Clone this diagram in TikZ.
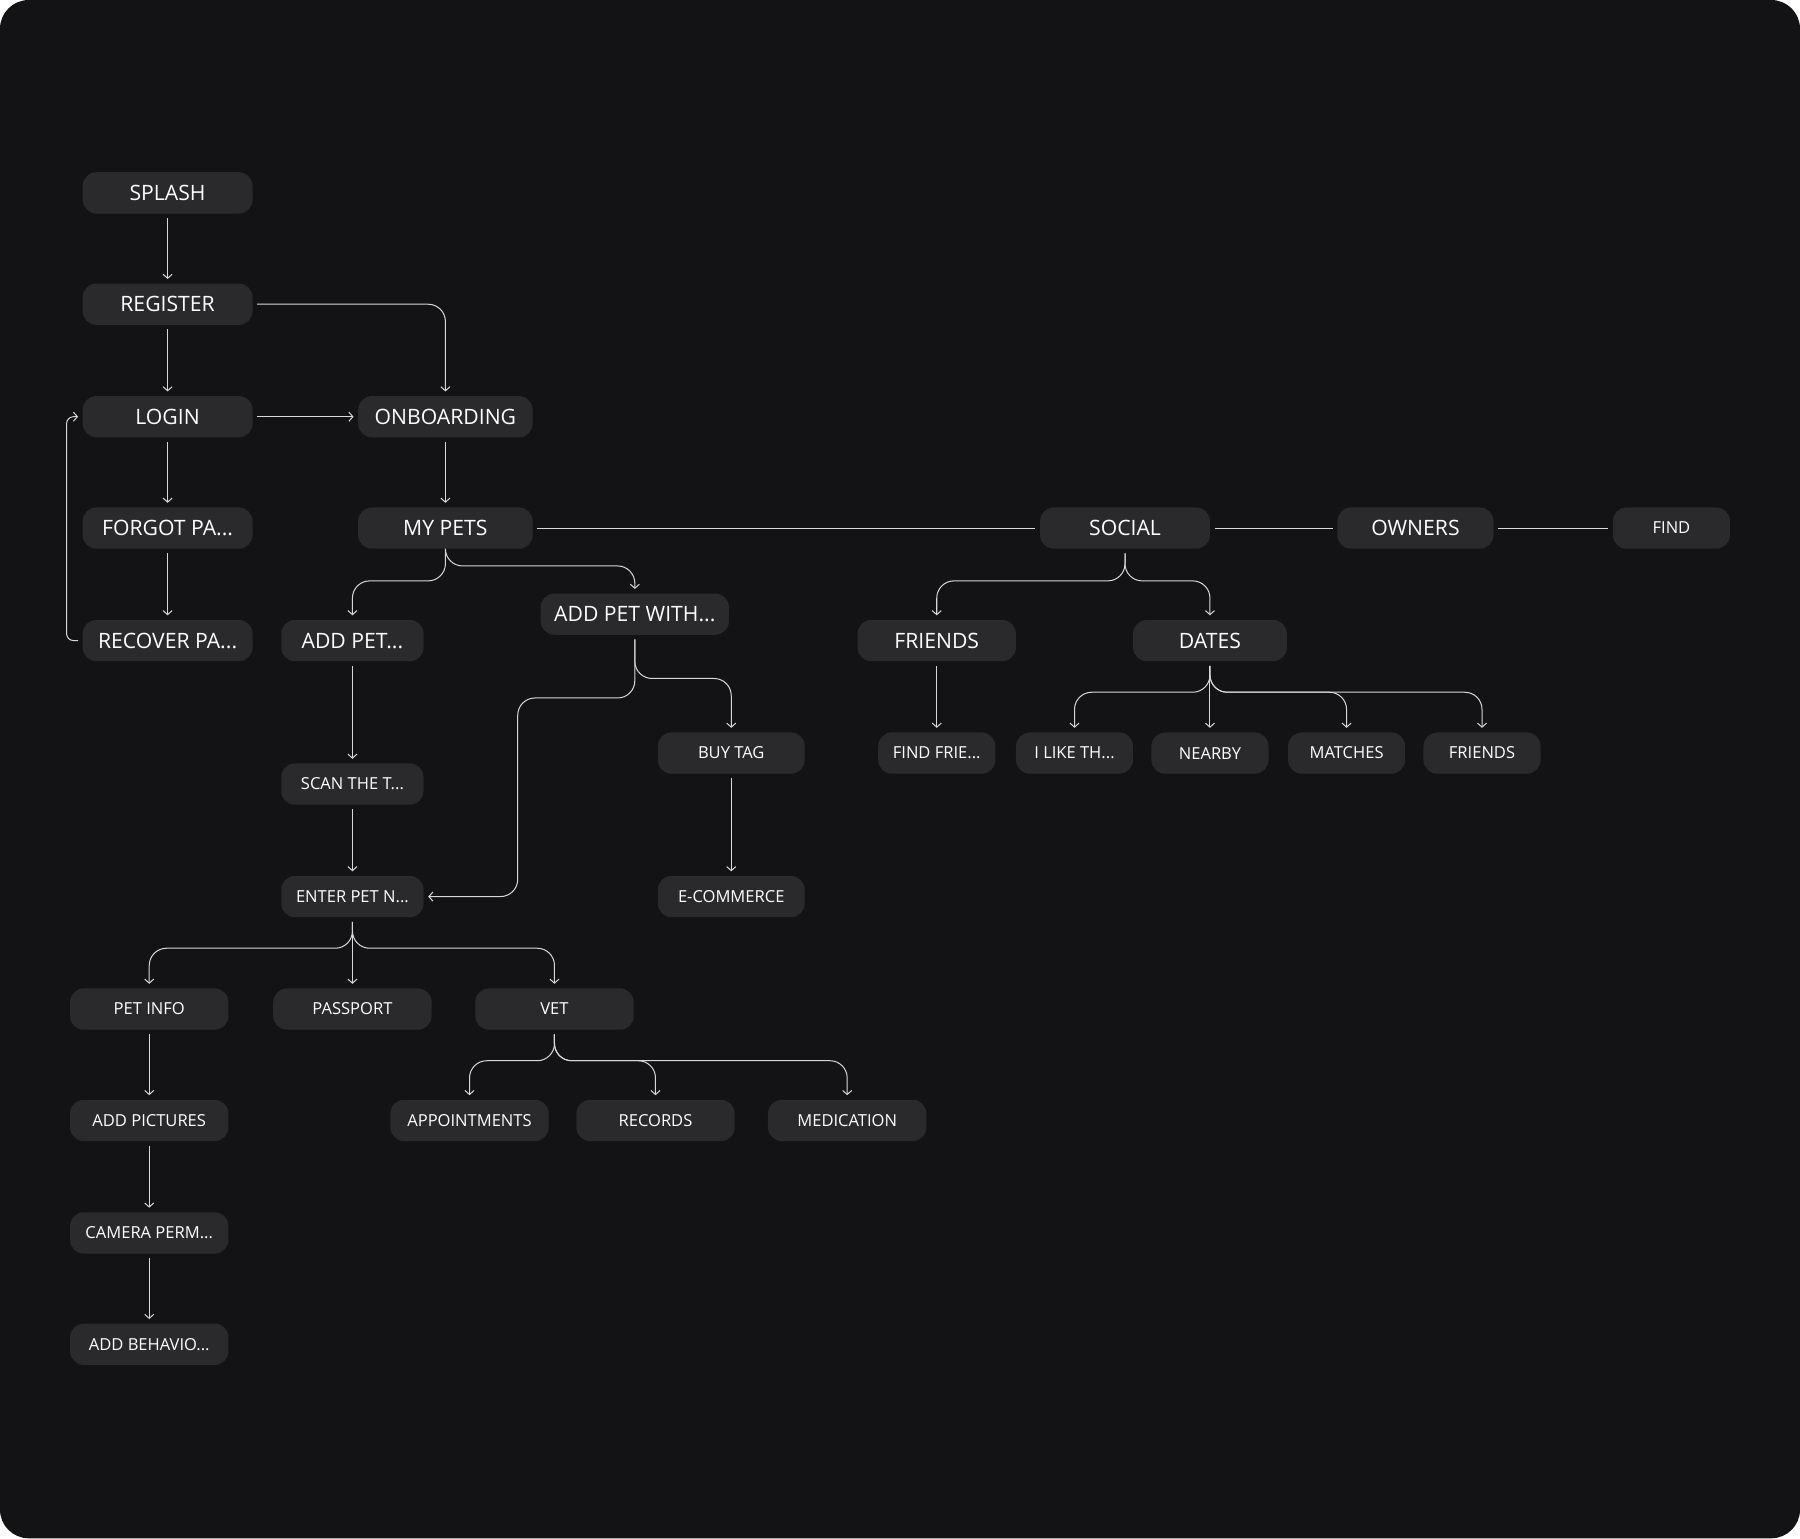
\documentclass[tikz,border=0pt]{standalone}
\usepackage{fontspec}
\setmainfont{Open Sans}
\usetikzlibrary{arrows.meta,calc,positioning}
\definecolor{bgdark}{HTML}{131316}
\definecolor{boxfill}{HTML}{2A2A2D}
\definecolor{linkcol}{HTML}{D8D8D8}
\def\u{0.02cm}
\begin{document}
\begin{tikzpicture}[x=0.02cm, y=-0.02cm,
            box/.style={rectangle, fill=boxfill, rounded corners=0.24cm, text=white,
            minimum height=36*\u, minimum width=#1*\u, outer sep=4*\u, inner sep=0pt},
            big/.style={font=\fontsize{10.5}{12}\selectfont},
            small/.style={font=\fontsize{8.2}{10}\selectfont},
            link/.style={draw=linkcol, line width=0.5pt, rounded corners=0.3cm,
            -{Straight Barb[length=2pt,width=4.5pt]}},
            plain/.style={draw=linkcol, line width=0.5pt}]
            \fill[bgdark, rounded corners=0.5cm] (0,0) rectangle (1568,1340);
            \useasboundingbox (0,0) rectangle (1568,1340);

            % left column
            \node (splash) [box=148, big] at (146,168) {SPLASH};
            \node (register) [box=148, big] at (146,265) {REGISTER};
            \node (login) [box=148, big] at (146,363) {LOGIN};
            \node (forgot) [box=148, big] at (146,460) {FORGOT PA...};
            \node (recover) [box=148, big] at (146,558) {RECOVER PA...};
            \node (onboarding) [box=152, big] at (388,363) {ONBOARDING};
            \node (mypets) [box=152, big] at (388,460) {MY PETS};

            % pets
            \node (addpet) [box=124, big] at (307,558) {ADD PET...};
            \node (addpetwith) [box=164, big] at (553,535) {ADD PET WITH...};
            \node (scan) [box=124, small] at (307,683) {SCAN THE T...};
            \node (enter) [box=124, small] at (307,781) {ENTER PET N...};
            \node (buytag) [box=128, small] at (637,656) {BUY TAG};
            \node (ecommerce) [box=128, small] at (637,781) {E-COMMERCE};
            \node (petinfo) [box=138, small] at (130,879) {PET INFO};
            \node (passport) [box=138, small] at (307,879) {PASSPORT};
            \node (vet) [box=138, small] at (483,879) {VET};
            \node (addpictures) [box=138, small] at (130,976) {ADD PICTURES};
            \node (camera) [box=138, small] at (130,1074) {CAMERA PERM...};
            \node (behaviour) [box=138, small] at (130,1171) {ADD BEHAVIO...};
            \node (appointments) [box=138, small] at (409,976) {APPOINTMENTS};
            \node (records) [box=138, small] at (571,976) {RECORDS};
            \node (medication) [box=138, small] at (738,976) {MEDICATION};

            % social
            \node (social) [box=148, big] at (980,460) {SOCIAL};
            \node (owners) [box=136, big] at (1233,460) {OWNERS};
            \node (find) [box=102, small] at (1456,460) {FIND};
            \node (friends) [box=138, big] at (816,558) {FRIENDS};
            \node (dates) [box=134, big] at (1054,558) {DATES};
            \node (findfriends) [box=102, small] at (816,656) {FIND FRIE...};
            \node (ilike) [box=102, small] at (936,656) {I LIKE TH...};
            \node (nearby) [box=102, small] at (1054,656) {NEARBY};
            \node (matches) [box=102, small] at (1173,656) {MATCHES};
            \node (datefriends) [box=102, small] at (1291,656) {FRIENDS};

            % straight links
            \foreach \a/\b in {splash/register, register/login, login/forgot, forgot/recover,
                onboarding/mypets, addpet/scan, scan/enter, buytag/ecommerce, friends/findfriends,
                dates/nearby, enter/passport, petinfo/addpictures, addpictures/camera, camera/behaviour}
                \draw [link] (\a.south) -- (\b.north);
            \draw [link] (login) -- (onboarding);
            \draw [link] (register.east) -| (onboarding.north);
            \draw [link, rounded corners=0.12cm] (recover.west) -- ++(-10,0) |- (login.west);
            \draw [plain] (mypets) -- (social);
            \draw [plain] (social) -- (owners);
            \draw [plain] (owners) -- (find);

            % branches
            \foreach \a/\b/\d in {mypets/addpet/30, mypets/addpetwith/20, social/friends/30,
                social/dates/30, dates/ilike/31, dates/matches/31, dates/datefriends/31,
                addpetwith/buytag/43, enter/petinfo/31, enter/vet/31,
                vet/appointments/30, vet/records/30, vet/medication/30}
                \draw [link] (\a.south) |- ($(\b.north)+(0,-\d)$) -- (\b.north);
            \draw [link] (addpetwith.south) |- (451,608) |- (enter.east);
        \end{tikzpicture}
\end{document}
